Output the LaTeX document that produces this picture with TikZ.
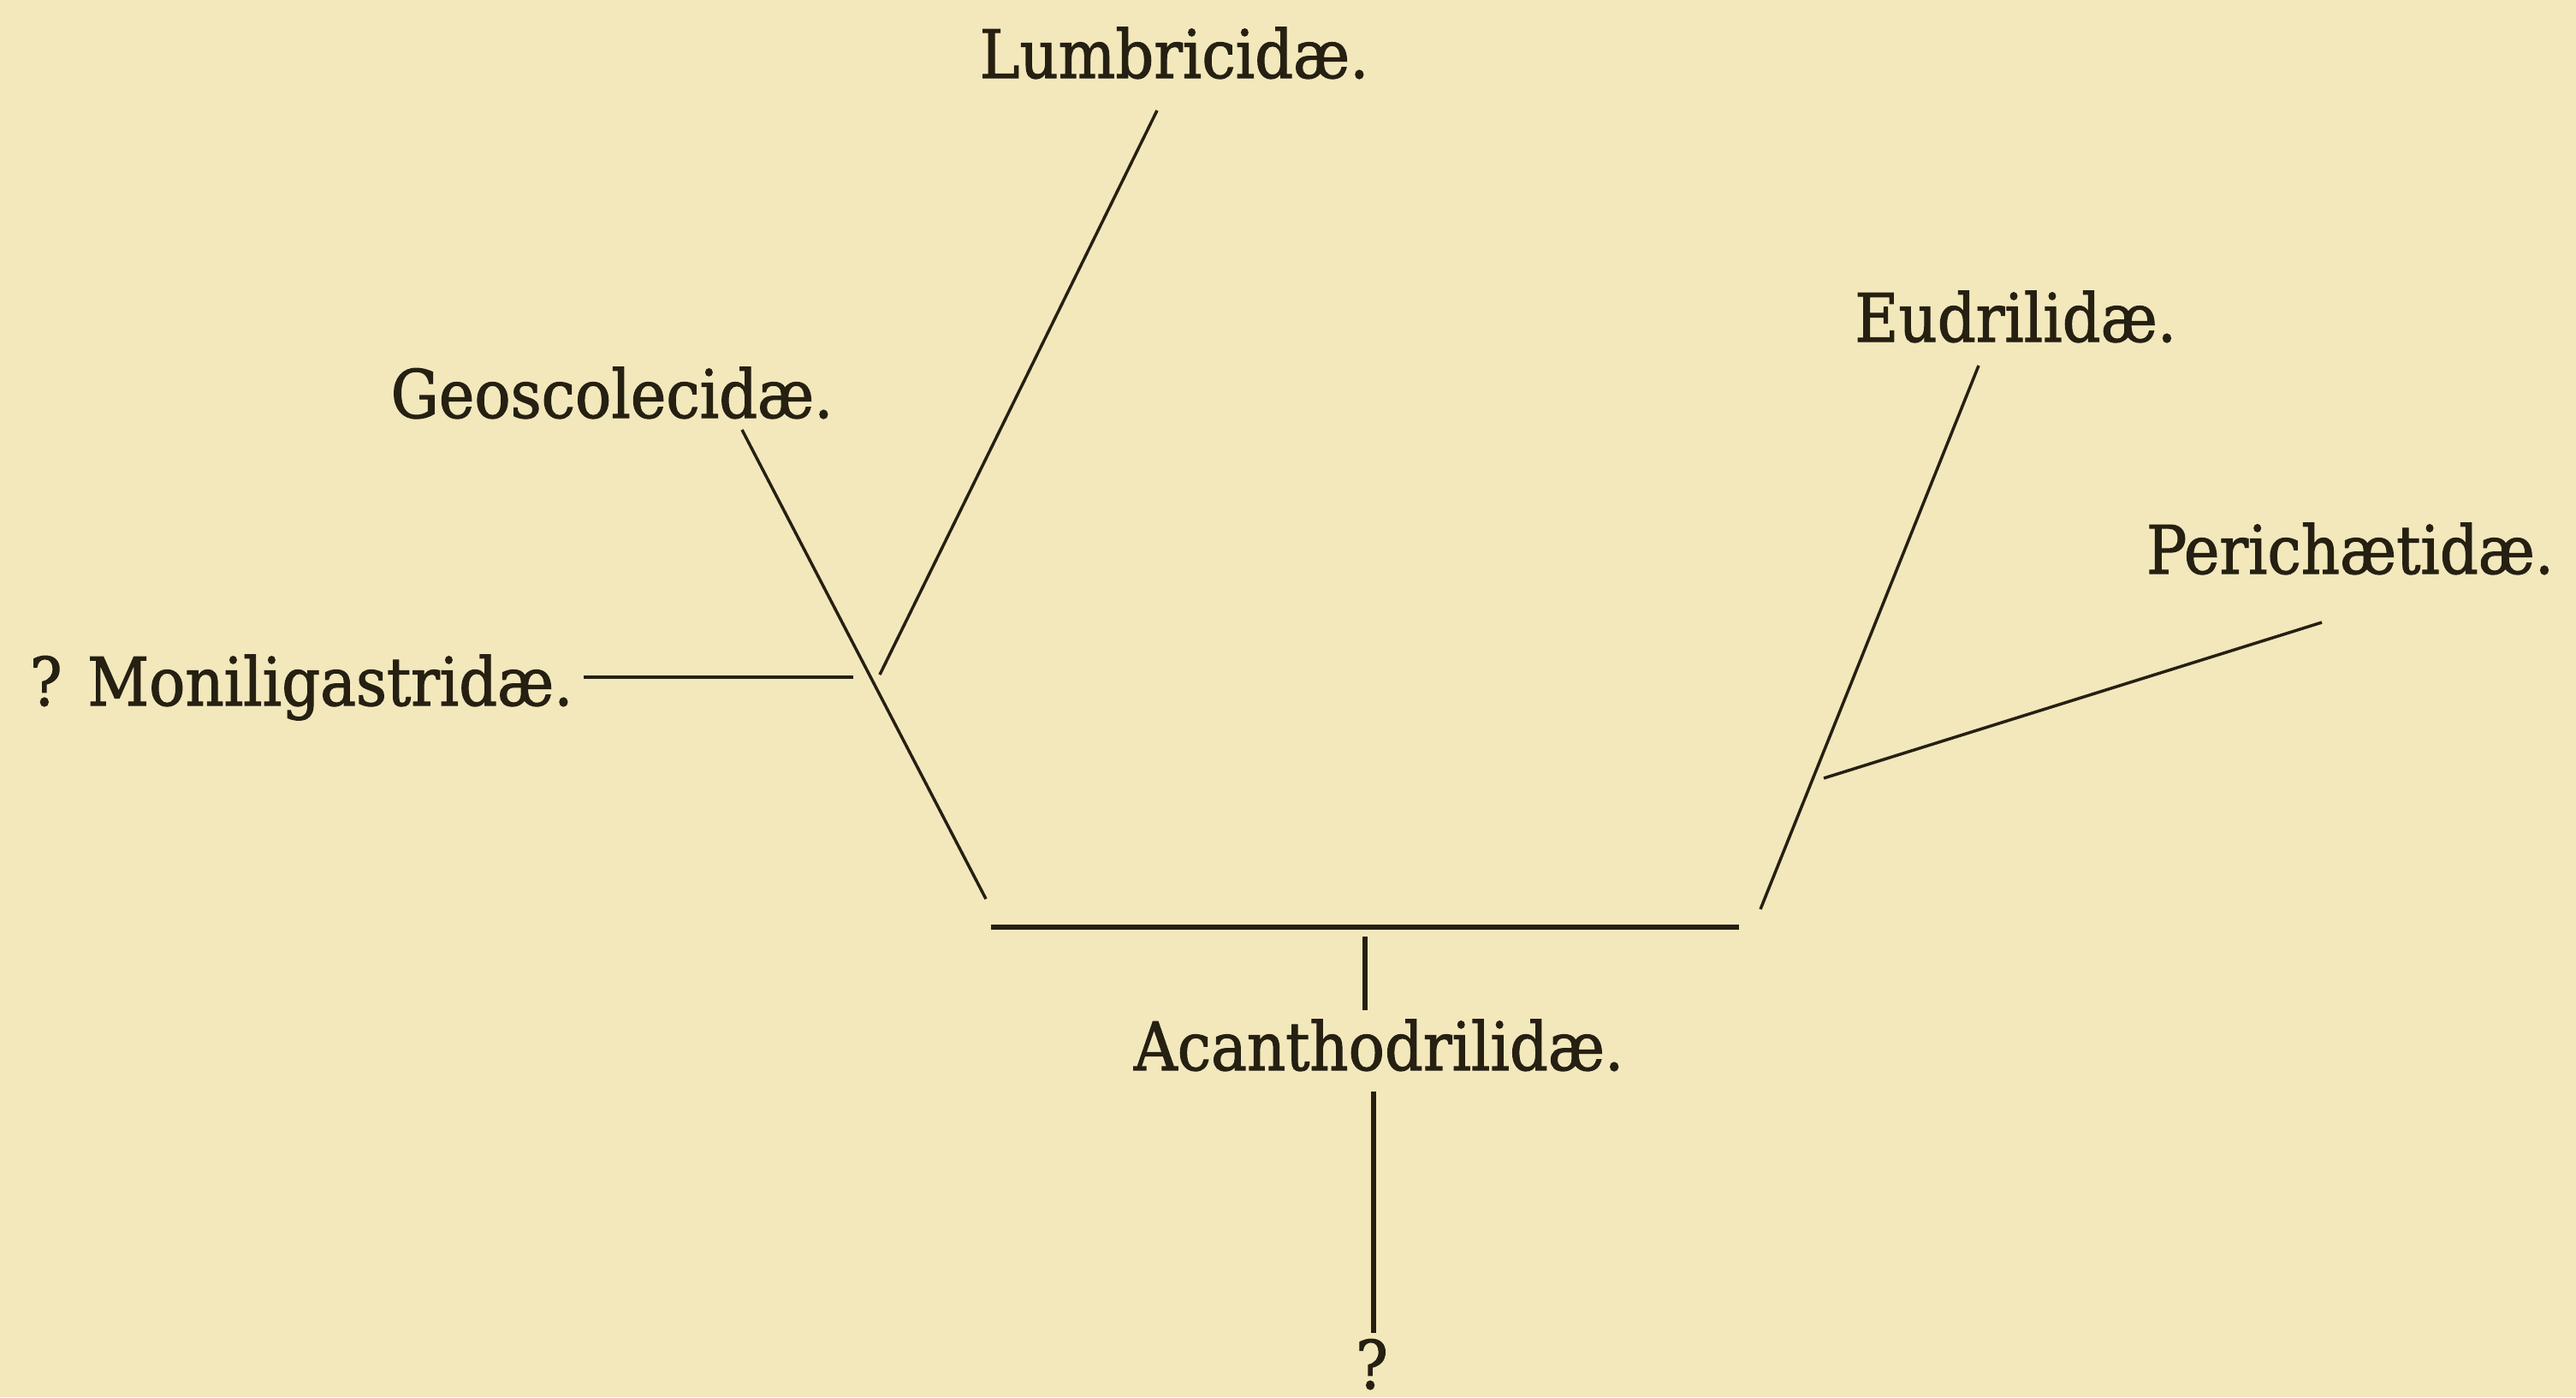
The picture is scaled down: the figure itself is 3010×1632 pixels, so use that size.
\documentclass[tikz,border=0pt]{standalone}
\usepackage{fontspec}
\setmainfont{DejaVu Serif Condensed}[FakeBold=1.4]
\definecolor{paper}{RGB}{242,232,188}
\definecolor{ink}{RGB}{38,32,18}
\tikzset{every picture/.style={line width=1.1pt}}

\begin{document}
\begin{tikzpicture}[x=0.01cm, y=-0.01cm,
    famname/.style={inner sep=0pt, anchor=base, text=ink, font=\fontsize{22.2}{26}\selectfont},
    twig/.style={draw=ink, line width=1pt},
    stem/.style={draw=ink, line width=1.6pt}]
    \fill[paper] (0,0) rectangle (3010,1632);
    \useasboundingbox (0,0) rectangle (3010,1632);
    % family names
    \node[famname] (lumb) at (1372,91) {Lumbricidæ.};
    \node[famname] (geo) at (715,488) {Geoscolecidæ.};
    \node[famname, anchor=base west] (moni) at (33,824) {? Moniligastridæ.};
    \node[famname] (eud) at (2355,399) {Eudrilidæ.};
    \node[famname] (peri) at (2746,670) {Perichætidæ.};
    \node[famname] (acan) at (1611,1250) {Acanthodrilidæ.};
    \node[famname] (root) at (1603,1622) {?};
    % line ends
    \coordinate (lumb-a) at (1352,129);
    \coordinate (lumb-b) at (1028,788);
    \coordinate (geo-a) at (867,502);
    \coordinate (geo-b) at (1152,1050);
    \coordinate (moni-a) at (682,791);
    \coordinate (moni-b) at (997,791);
    \coordinate (eud-a) at (2312,427);
    \coordinate (eud-b) at (2057,1062);
    \coordinate (peri-a) at (2713,727);
    \coordinate (peri-b) at (2131,909);
    \coordinate (base-l) at (1158,1083);
    \coordinate (base-r) at (2032,1083);
    \coordinate (acan-a) at (1595,1094);
    \coordinate (acan-b) at (1595,1180);
    \coordinate (root-a) at (1605,1275);
    \coordinate (root-b) at (1605,1557);
    % branches
    \draw[twig] (lumb-a) -- (lumb-b);
    \draw[twig] (geo-a) -- (geo-b);
    \draw[twig] (moni-a) -- (moni-b);
    \draw[twig] (eud-a) -- (eud-b);
    \draw[twig] (peri-a) -- (peri-b);
    \draw[stem] (base-l) -- (base-r);
    \draw[stem] (acan-a) -- (acan-b);
    \draw[stem] (root-a) -- (root-b);
\end{tikzpicture}
\end{document}
